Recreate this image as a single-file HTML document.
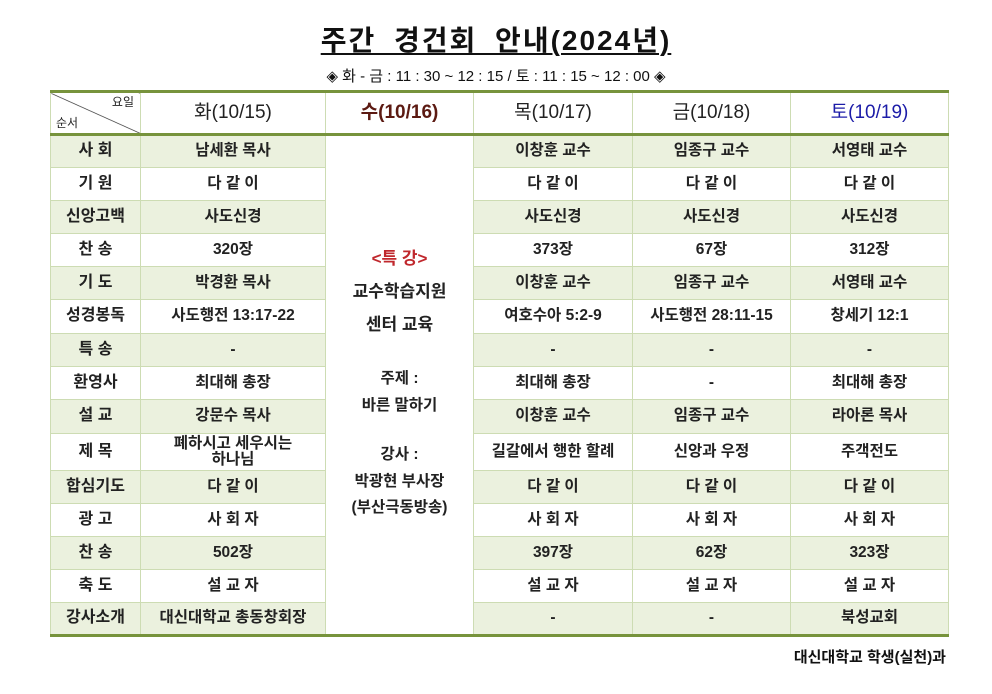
<!DOCTYPE html>
<html><head><meta charset="utf-8"><style>
body{margin:0;width:992px;height:694px;background:#fff;font-family:"Liberation Sans","Noto Sans CJK KR",sans-serif;color:#111;position:relative;overflow:hidden}
.t{position:absolute;left:0;width:992px;text-align:center}
table{position:absolute;left:50px;top:90px;border-collapse:collapse;table-layout:fixed;width:898px}
td{border:1px solid #cddcb3;text-align:center;font-size:15.5px;padding:0;line-height:1.05;font-weight:bold;color:#222}
tr.h td{height:40px;font-size:19px;font-weight:normal;border-top:3px solid #77933c;border-bottom:3px solid #77933c}
tr.g td{background:#ebf1de}
td.l{font-size:16px}
tr.last td{border-bottom:3px solid #77933c}
td.w{background:#fff!important;vertical-align:top;position:relative;border-bottom:3px solid #77933c}
.w div{position:absolute;left:0;width:100%;text-align:center;font-size:17px}
</style></head><body>
<div class="t" style="top:26px;font-size:28px;line-height:30px;font-weight:bold;letter-spacing:2px;word-spacing:8px"><span style="text-decoration:underline;text-decoration-thickness:2px;text-underline-offset:3px">주간 경건회 안내(2024년)</span></div>
<div class="t" style="top:65px;font-size:15px">◈ 화 - 금 : 11 : 30 ~ 12 : 15 / 토 : 11 : 15 ~ 12 : 00 ◈</div>
<table>
<colgroup><col style="width:90px"><col style="width:185px"><col style="width:148px"><col style="width:159px"><col style="width:158px"><col style="width:158px"></colgroup>
<tr class="h"><td style="position:relative;background:linear-gradient(to top right,#fff calc(50% - 0.7px),#333 50%,#fff calc(50% + 0.7px))"><span style="position:absolute;right:6px;top:3px;font-size:12px">요일</span><span style="position:absolute;left:5px;bottom:3px;font-size:12px">순서</span></td><td>화(10/15)</td><td style="color:#5c1a12;font-weight:bold">수(10/16)</td><td>목(10/17)</td><td>금(10/18)</td><td style="color:#1c1ca8">토(10/19)</td></tr>
<tr class="g" style="height:33px"><td class="l">사 회</td><td>남세환 목사</td>
<td class="w" rowspan="15"><div style="top:114px;color:#c0282d">&lt;특 강&gt;</div><div style="top:147px">교수학습지원</div><div style="top:180px">센터 교육</div><div style="top:235px;font-size:15.5px">주제 :</div><div style="top:262px;font-size:15.5px">바른 말하기</div><div style="top:311px;font-size:15.5px">강사 :</div><div style="top:338px;font-size:15.5px">박광현 부사장</div><div style="top:364px;font-size:15.5px">(부산극동방송)</div></td>
<td>이창훈 교수</td><td>임종구 교수</td><td>서영태 교수</td></tr>
<tr style="height:33px"><td class="l">기 원</td><td>다 같 이</td><td>다 같 이</td><td>다 같 이</td><td>다 같 이</td></tr>
<tr class="g" style="height:33px"><td class="l">신앙고백</td><td>사도신경</td><td>사도신경</td><td>사도신경</td><td>사도신경</td></tr>
<tr style="height:33px"><td class="l">찬 송</td><td>320장</td><td>373장</td><td>67장</td><td>312장</td></tr>
<tr class="g" style="height:33px"><td class="l">기 도</td><td>박경환 목사</td><td>이창훈 교수</td><td>임종구 교수</td><td>서영태 교수</td></tr>
<tr style="height:34px"><td class="l">성경봉독</td><td>사도행전 13:17-22</td><td>여호수아 5:2-9</td><td>사도행전 28:11-15</td><td>창세기 12:1</td></tr>
<tr class="g" style="height:33px"><td class="l">특 송</td><td>-</td><td>-</td><td>-</td><td>-</td></tr>
<tr style="height:33px"><td class="l">환영사</td><td>최대해 총장</td><td>최대해 총장</td><td>-</td><td>최대해 총장</td></tr>
<tr class="g" style="height:34px"><td class="l">설 교</td><td>강문수 목사</td><td>이창훈 교수</td><td>임종구 교수</td><td>라아론 목사</td></tr>
<tr style="height:37px"><td class="l">제 목</td><td>폐하시고 세우시는<br>하나님</td><td>길갈에서 행한 할례</td><td>신앙과 우정</td><td>주객전도</td></tr>
<tr class="g" style="height:33px"><td class="l">합심기도</td><td>다 같 이</td><td>다 같 이</td><td>다 같 이</td><td>다 같 이</td></tr>
<tr style="height:33px"><td class="l">광 고</td><td>사 회 자</td><td>사 회 자</td><td>사 회 자</td><td>사 회 자</td></tr>
<tr class="g" style="height:33px"><td class="l">찬 송</td><td>502장</td><td>397장</td><td>62장</td><td>323장</td></tr>
<tr style="height:33px"><td class="l">축 도</td><td>설 교 자</td><td>설 교 자</td><td>설 교 자</td><td>설 교 자</td></tr>
<tr class="g last" style="height:33px"><td class="l">강사소개</td><td>대신대학교 총동창회장</td><td>-</td><td>-</td><td>북성교회</td></tr>
</table>
<div style="position:absolute;right:46px;top:646px;font-size:15px;font-weight:bold">대신대학교 학생(실천)과</div>
</body></html>
